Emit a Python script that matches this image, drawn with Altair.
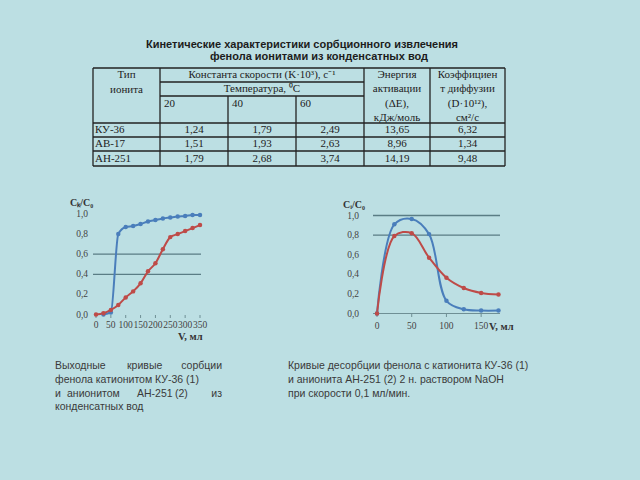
import altair as alt
import pandas as pd

# ---------------- data ----------------
title_lines = ["Кинетические характеристики сорбционного извлечения",
               "фенола ионитами из конденсатных вод"]

ionites = ["КУ-36", "АВ-17", "АН-251"]
k20 = [1.24, 1.51, 1.79]
k40 = [1.79, 1.93, 2.68]
k60 = [2.49, 2.63, 3.74]
energy = [13.65, 8.96, 14.19]
diffusion = [6.32, 1.34, 9.48]

# sorption (breakthrough) curves
sorb_v_1 = [25, 50, 75, 100, 125, 150, 175, 200, 225, 250, 275, 300, 325, 350]
sorb_c_1 = [0.0, 0.02, 0.80, 0.87, 0.88, 0.90, 0.925, 0.94, 0.955, 0.965, 0.975, 0.98, 0.99, 0.99]
sorb_v_2 = [0, 25, 50, 75, 100, 125, 150, 175, 200, 225, 250, 275, 300, 325, 350]
sorb_c_2 = [0.0, 0.012, 0.045, 0.095, 0.17, 0.23, 0.31, 0.43, 0.51, 0.65, 0.77, 0.80, 0.83, 0.86, 0.89]

# desorption curves
des_v = [0, 25, 50, 75, 100, 125, 150, 175]
des_c_1 = [0.0, 0.91, 0.965, 0.81, 0.13, 0.043, 0.03, 0.03]
des_c_2 = [0.0, 0.79, 0.82, 0.57, 0.365, 0.26, 0.21, 0.195]

sorb_x_ticks = [0, 50, 100, 150, 200, 250, 300, 350]
des_x_ticks = [0, 50, 100, 150]
y_ticks = [0.0, 0.2, 0.4, 0.6, 0.8, 1.0]

# ---------------- styles ----------------
BG = "#bcdfe3"
BLUE = "#4a7ebb"
RED = "#be4b48"
GRID = "#5a7d85"
INK = "#1c1c1c"
CAP = "#3a3a3a"
SERIF = "Liberation Serif"
SANS = "Liberation Sans"


def comma(v):
    return f"{v:.2f}".replace(".", ",")


def px_text(df, align="left", **kw):
    return alt.Chart(df).mark_text(align=align, baseline="middle", **kw).encode(
        x=alt.X("x:Q", scale=None, axis=None),
        y=alt.Y("y:Q", scale=None, axis=None),
        text="t:N",
    )


def px_rules(df, **kw):
    return alt.Chart(df).mark_rule(**kw).encode(
        x=alt.X("x:Q", scale=None, axis=None),
        x2="x2:Q",
        y=alt.Y("y:Q", scale=None, axis=None),
        y2="y2:Q",
    )


layers = []

# ---------------- title ----------------
layers.append(px_text(pd.DataFrame({"x": [146], "y": [45], "t": [title_lines[0]]}),
                      font=SANS, fontSize=11, fontWeight="bold", color=INK))
layers.append(px_text(pd.DataFrame({"x": [210], "y": [56.5], "t": [title_lines[1]]}),
                      font=SANS, fontSize=11, fontWeight="bold", color=INK))

# ---------------- table ----------------
L, R = 93, 505
top, bot = 68, 166
hl = [
    (L, R, 68), (160, 364, 82), (160, 364, 96), (L, R, 123), (L, R, 137), (L, R, 151), (L, R, 166)
]
vl = [(93, top, bot), (160, top, bot), (228, 96, bot), (296, 96, bot), (364, top, bot),
      (430, top, bot), (505, top, bot)]
rules = [{"x": a, "x2": b, "y": y, "y2": y} for a, b, y in hl] + \
        [{"x": x, "x2": x, "y": a, "y2": b} for x, a, b in vl]
layers.append(px_rules(pd.DataFrame(rules), color="#222222", strokeWidth=1.3))

hdr_c = [
    (126.5, 75, "Тип"), (126.5, 89.5, "ионита"),
    (262, 75, "Константа скорости (K·10³), с⁻¹"), (262, 89, "Температура, ⁰С"),
    (397, 75, "Энергия"), (397, 89, "активации"), (397, 104, "(ΔE),"), (397, 117.5, "кДж/моль"),
    (467.5, 75, "Коэффициен"), (467.5, 89, "т диффузии"), (467.5, 104, "(D·10¹²),"),
    (467.5, 117.5, "см²/с"),
]
row_y = [130, 144, 158.5]
centers = [194, 262, 330, 397, 467.5]
for i in range(len(ionites)):
    vals = [k20[i], k40[i], k60[i], energy[i], diffusion[i]]
    for cx, v in zip(centers, vals):
        hdr_c.append((cx, row_y[i], comma(v)))
layers.append(px_text(pd.DataFrame(hdr_c, columns=["x", "y", "t"]), align="center",
                      font=SERIF, fontSize=11, color=INK))

hdr_l = [(164, 104, "20"), (232, 104, "40"), (300, 104, "60")]
for i, name in enumerate(ionites):
    hdr_l.append((95, row_y[i], name))
layers.append(px_text(pd.DataFrame(hdr_l, columns=["x", "y", "t"]), align="left",
                      font=SERIF, fontSize=11, color=INK))

# ---------------- chart builder ----------------
color_scale = alt.Scale(domain=["1", "2"], range=[BLUE, RED])


def mini_chart(df, xs, ys, x_ticks, grid_vals, grid_x, ylab_x, xlab_y, interp,
               axis_line=None, tick_y=None):
    out = []
    out.append(alt.Chart(pd.DataFrame({"v": grid_vals})).mark_rule(
        color=GRID, strokeWidth=1.3).encode(
        y=alt.Y("v:Q", scale=ys, axis=None),
        x=alt.value(grid_x[0]), x2=alt.value(grid_x[1])))
    if axis_line is not None:
        out.append(alt.Chart(pd.DataFrame({"v": [0.0]})).mark_rule(
            color="#6f8f95", strokeWidth=1).encode(
            y=alt.Y("v:Q", scale=ys, axis=None),
            x=alt.value(axis_line[0]), x2=alt.value(axis_line[1])))
    if tick_y is not None:
        out.append(alt.Chart(pd.DataFrame({"v": x_ticks})).mark_rule(
            color="#6f8f95", strokeWidth=1).encode(
            x=alt.X("v:Q", scale=xs, axis=None),
            y=alt.value(tick_y[0]), y2=alt.value(tick_y[1])))
    base = alt.Chart(df).encode(
        x=alt.X("v:Q", scale=xs, axis=None),
        y=alt.Y("c:Q", scale=ys, axis=None),
        color=alt.Color("s:N", scale=color_scale, legend=None),
    )
    out.append(base.mark_line(interpolate=interp, strokeWidth=2))
    out.append(base.mark_circle(size=20, opacity=1))
    ylab = pd.DataFrame({"v": y_ticks, "t": [comma(v)[:-1] for v in y_ticks]})
    out.append(alt.Chart(ylab).mark_text(align="right", baseline="middle", font=SERIF,
                                         fontSize=9.5, color="#444444").encode(
        y=alt.Y("v:Q", scale=ys, axis=None), x=alt.value(ylab_x), text="t:N"))
    xlab = pd.DataFrame({"v": x_ticks, "t": [str(v) for v in x_ticks]})
    out.append(alt.Chart(xlab).mark_text(align="center", baseline="middle", font=SERIF,
                                         fontSize=9.5, color="#444444").encode(
        x=alt.X("v:Q", scale=xs, axis=None), y=alt.value(xlab_y), text="t:N"))
    return out


sorb_df = pd.concat([
    pd.DataFrame({"v": sorb_v_1, "c": sorb_c_1, "s": "1"}),
    pd.DataFrame({"v": sorb_v_2, "c": sorb_c_2, "s": "2"}),
])
des_df = pd.concat([
    pd.DataFrame({"v": des_v, "c": des_c_1, "s": "1"}),
    pd.DataFrame({"v": des_v, "c": des_c_2, "s": "2"}),
])

sx = alt.Scale(domain=[0, 350], range=[96, 200], nice=False, zero=False)
sy = alt.Scale(domain=[0, 1], range=[314.5, 214], nice=False)
layers += mini_chart(sorb_df, sx, sy, sorb_x_ticks, [0.4, 0.6], (93, 201), 88, 325,
                     "monotone", tick_y=(315, 318))

dx = alt.Scale(domain=[0, 175], range=[377, 498.5], nice=False, zero=False)
dy = alt.Scale(domain=[0, 1], range=[313.5, 215.5], nice=False)
layers += mini_chart(des_df, dx, dy, des_x_ticks, [0.8, 1.0], (373, 500), 359, 326,
                     "catmull-rom", axis_line=(373, 500), tick_y=(313.5, 317))

# axis titles
ax_titles = pd.DataFrame({"x": [70, 343], "y": [203, 204.5], "t": ["Cₖ/C₀", "Cᵢ/C₀"]})
layers.append(px_text(ax_titles, align="left", font=SERIF, fontSize=10, fontWeight="bold",
                      color="#333333"))
v_titles = pd.DataFrame({"x": [178, 489], "y": [337, 327], "t": ["V, мл", "V, мл"]})
layers.append(px_text(v_titles, align="left", font=SERIF, fontSize=10.5, fontWeight="bold",
                      color="#333333"))

# ---------------- captions ----------------
cap_left = [
    (55, 366, "Выходные"), (127, 366, "кривые"),
    (55, 380, "фенола катионитом КУ-36 (1)"),
    (55, 393.5, "и"), (67, 393.5, "анионитом"), (137, 393.5, "АН-251"), (175, 393.5, "(2)"),
    (55, 407, "конденсатных вод"),
    (288, 366, "Кривые десорбции фенола с катионита КУ-36 (1)"),
    (288, 380, "и анионита  АН-251 (2) 2 н. раствором NaOH"),
    (288, 393.5, "при скорости 0,1 мл/мин."),
]
cap_right = [(222, 366, "сорбции"), (222, 393.5, "из")]
layers.append(px_text(pd.DataFrame(cap_left, columns=["x", "y", "t"]), align="left",
                      font=SANS, fontSize=10.5, color=CAP))
layers.append(px_text(pd.DataFrame(cap_right, columns=["x", "y", "t"]), align="right",
                      font=SANS, fontSize=10.5, color=CAP))

chart = alt.layer(*layers).resolve_scale(
    x="independent", y="independent", color="independent"
).properties(
    width=640, height=480, autosize="none", padding=0, background=BG
).configure_view(stroke=None)

chart.save("out.html", embed_options={"renderer": "svg", "actions": False})
